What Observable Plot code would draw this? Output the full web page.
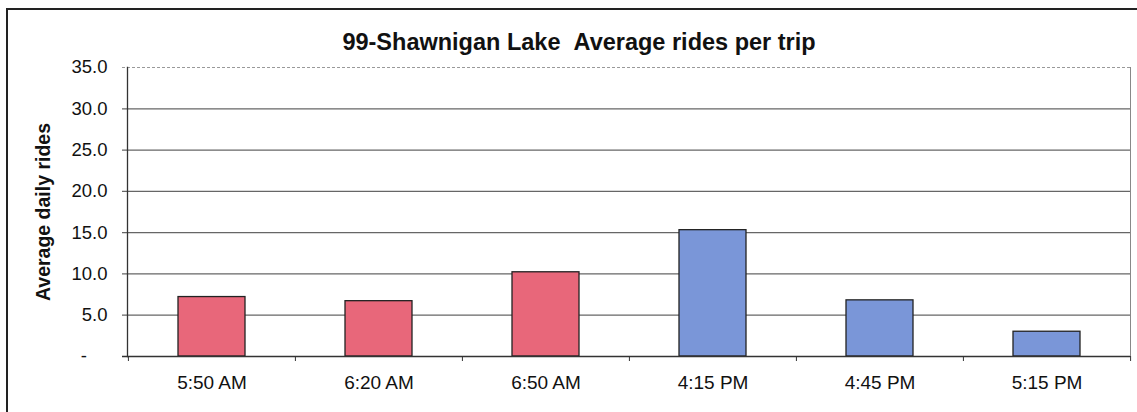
<!DOCTYPE html>
<html>
<head>
<meta charset="utf-8">
<script src="https://cdn.jsdelivr.net/npm/d3@7"></script>
<script src="https://cdn.jsdelivr.net/npm/@observablehq/plot@0.6"></script>
<style>
  html, body { margin: 0; padding: 0; background: #fff; overflow: hidden; }
  #wrap { position: relative; width: 1137px; height: 412px; }
  #border { position: absolute; left: 6px; top: 8px; width: 1200px; height: 500px;
            border-left: 2px solid #222; border-top: 2px solid #222; pointer-events: none; }
</style>
</head>
<body>
<div id="wrap"><div id="border"></div></div>
<script>
const categories = ["5:50 AM", "6:20 AM", "6:50 AM", "4:15 PM", "4:45 PM", "5:15 PM"];
const rides = [7.2, 6.7, 10.2, 15.3, 6.8, 3.0];
const period = ["AM", "AM", "AM", "PM", "PM", "PM"];
const yTicks = [0, 5, 10, 15, 20, 25, 30, 35];
const titleText = "99-Shawnigan Lake\u00a0\u00a0Average rides per trip";
const yLabel = "Average daily rides";

const data = categories.map((c, i) => ({ time: c, rides: rides[i], period: period[i] }));

const W = 1137, H = 412, ML = 127, MR = 7, MT = 67, MB = 56;
const step = (W - ML - MR) / categories.length;

const chart = Plot.plot({
  width: W,
  height: H,
  marginLeft: ML,
  marginRight: MR,
  marginTop: MT,
  marginBottom: MB,
  style: { fontFamily: "'Liberation Sans', Arial, sans-serif", fontSize: "18px", color: "#111", background: "transparent" },
  x: { domain: categories, paddingInner: 0.6, paddingOuter: 0.3, label: null },
  y: { domain: [0, 35], label: null },
  color: { domain: ["AM", "PM"], range: ["#e8677a", "#7a96d8"] },
  marks: [
    Plot.ruleY(yTicks.filter(t => t > 0 && t < 35), { stroke: "#666", strokeWidth: 1.2, insetLeft: -5 }),
    Plot.ruleY([35], { stroke: "#999", strokeWidth: 1, strokeDasharray: "3,2", insetLeft: -5 }),
    Plot.frame({ anchor: "right", stroke: "#888", strokeWidth: 1 }),
    Plot.frame({ anchor: "left", stroke: "#333", strokeWidth: 1.3 }),
    Plot.barY(data, { x: "time", y: "rides", fill: "period", stroke: "#222", strokeWidth: 1.3 }),
    Plot.ruleY([0], { stroke: "#333", strokeWidth: 1.3, insetLeft: -5 }),
    Plot.ruleX(categories, { x: d => d, dx: -step / 2, y1: 0, y2: 0, insetBottom: -5, stroke: "#333" }),
    Plot.ruleX([categories[categories.length - 1]], { x: d => d, dx: step / 2, y1: 0, y2: 0, insetBottom: -5, stroke: "#333" }),
    Plot.axisY({
      ticks: yTicks,
      tickSize: 0,
      tickPadding: 20,
      fontSize: 18.5,
      tickFormat: d => d === 0 ? "-\u2007\u2007" : d.toFixed(1),
      label: null
    }),
    Plot.axisX({ tickSize: 0, tickPadding: 19, fontSize: 19, label: null }),
    Plot.text([titleText], {
      frameAnchor: "top", text: d => d, dx: -50, dy: -25, lineAnchor: "middle",
      fontSize: 23.5, fontWeight: "bold", fill: "#111"
    }),
    Plot.text([yLabel], {
      frameAnchor: "left", text: d => d, dx: -84, rotate: -90, lineAnchor: "middle", textAnchor: "middle",
      fontSize: 19.5, fontWeight: "bold", fill: "#111"
    })
  ]
});
document.getElementById("wrap").prepend(chart);
</script>
</body>
</html>
